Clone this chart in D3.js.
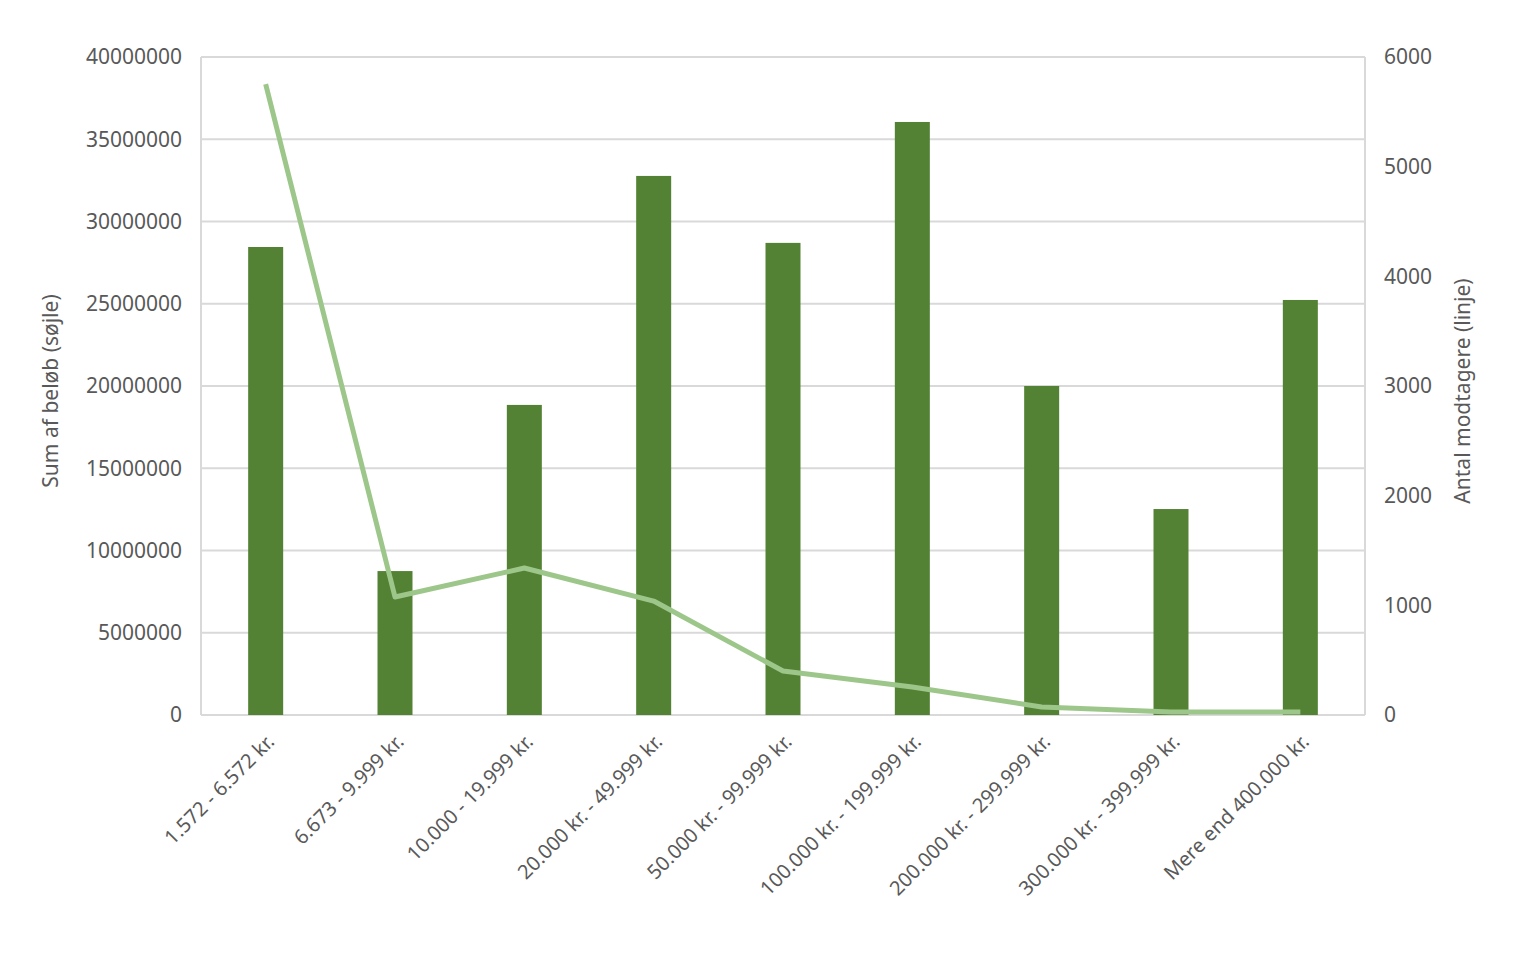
<!DOCTYPE html>
<html>
<head>
<meta charset="utf-8">
<script src="https://d3js.org/d3.v7.min.js"></script>
<style>
  body { margin: 0; background: white; }
  text { font-family: "Noto Sans", "DejaVu Sans", sans-serif; fill: #595959; }
</style>
</head>
<body>
<div id="chart"></div>
<script>
  // data
  const categories = ["1.572 - 6.572 kr.", "6.673 - 9.999 kr.", "10.000 - 19.999 kr.",
    "20.000 kr. - 49.999 kr.", "50.000 kr. - 99.999 kr.", "100.000 kr. - 199.999 kr.",
    "200.000 kr. - 299.999 kr.", "300.000 kr. - 399.999 kr.", "Mere end 400.000 kr."];
  const sumBeloeb = [28450000, 8750000, 18850000, 32770000, 28700000, 36050000, 20000000, 12520000, 25230000];
  const antalModtagere = [5752, 1076, 1340, 1039, 401, 255, 73, 27, 27];
  const leftTicks = [0, 5000000, 10000000, 15000000, 20000000, 25000000, 30000000, 35000000, 40000000];
  const rightTicks = [0, 1000, 2000, 3000, 4000, 5000, 6000];

  const W = 1528, H = 972;
  const m = { left: 201, right: 1528 - 1365, top: 57, bottom: 972 - 715 };
  const svg = d3.select("#chart").append("svg").attr("width", W).attr("height", H);

  const x = d3.scaleBand().domain(categories).range([m.left, W - m.right]);
  const yL = d3.scaleLinear().domain([0, 40000000]).range([H - m.bottom, m.top]);
  const yR = d3.scaleLinear().domain([0, 6000]).range([H - m.bottom, m.top]);

  // gridlines
  svg.append("g").selectAll("line").data(leftTicks).join("line")
    .attr("x1", m.left).attr("x2", W - m.right)
    .attr("y1", d => yL(d)).attr("y2", d => yL(d))
    .attr("stroke", "#d9d9d9").attr("stroke-width", 2);
  // frame sides
  svg.append("line").attr("x1", m.left).attr("x2", m.left).attr("y1", m.top).attr("y2", H - m.bottom)
    .attr("stroke", "#d9d9d9").attr("stroke-width", 2);
  svg.append("line").attr("x1", W - m.right).attr("x2", W - m.right).attr("y1", m.top).attr("y2", H - m.bottom)
    .attr("stroke", "#d9d9d9").attr("stroke-width", 2);

  // bars
  const bw = 35;
  svg.append("g").selectAll("rect").data(sumBeloeb).join("rect")
    .attr("x", (d, i) => x(categories[i]) + x.bandwidth() / 2 - bw / 2)
    .attr("width", bw)
    .attr("y", d => yL(d))
    .attr("height", d => yL(0) - yL(d))
    .attr("fill", "#548235");

  // line
  const line = d3.line()
    .x((d, i) => x(categories[i]) + x.bandwidth() / 2)
    .y(d => yR(d));
  svg.append("path").datum(antalModtagere).attr("d", line)
    .attr("fill", "none").attr("stroke", "#9dc78a").attr("stroke-width", 5)
    .attr("stroke-linejoin", "round");

  // axes labels
  svg.append("g").selectAll("text").data(leftTicks).join("text")
    .attr("x", m.left - 19).attr("y", d => yL(d)).attr("dy", "0.35em")
    .attr("text-anchor", "end").attr("font-size", 21).text(d => d);
  svg.append("g").selectAll("text").data(rightTicks).join("text")
    .attr("x", W - m.right + 19).attr("y", d => yR(d)).attr("dy", "0.35em")
    .attr("text-anchor", "start").attr("font-size", 21).text(d => d);

  svg.append("g").selectAll("text").data(categories).join("text")
    .attr("transform", d => `translate(${x(d) + x.bandwidth() / 2 + 10},${H - m.bottom + 28}) rotate(-45)`)
    .attr("text-anchor", "end").attr("font-size", 20).text(d => d);

  svg.append("text").attr("transform", `translate(58,${(m.top + H - m.bottom) / 2 + 5}) rotate(-90)`)
    .attr("text-anchor", "middle").attr("font-size", 21).text("Sum af beløb (søjle)");
  svg.append("text").attr("transform", `translate(1470,${(m.top + H - m.bottom) / 2 + 5}) rotate(-90)`)
    .attr("text-anchor", "middle").attr("font-size", 21).text("Antal modtagere (linje)");
</script>
</body>
</html>
